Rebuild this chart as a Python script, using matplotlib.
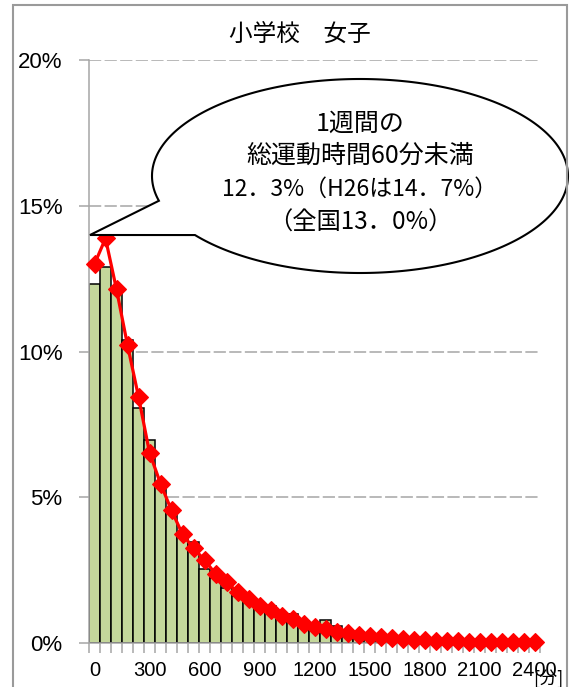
import matplotlib
matplotlib.use("Agg")
import numpy as np
import matplotlib.pyplot as plt
from matplotlib.patches import Rectangle, PathPatch
from matplotlib.path import Path

plt.rcParams['font.family'] = ['Noto Sans CJK JP', 'DejaVu Sans']

# ------------------------------------------------------------
#  Donnees
# ------------------------------------------------------------
minutes = [0, 60, 120, 180, 240, 300, 360, 420, 480, 540,
           600, 660, 720, 780, 840, 900, 960, 1020, 1080, 1140,
           1200, 1260, 1320, 1380, 1440, 1500, 1560, 1620, 1680, 1740,
           1800, 1860, 1920, 1980, 2040, 2100, 2160, 2220, 2280, 2340,
           2400]
label_minutes = [0, 300, 600, 900, 1200, 1500, 1800, 2100, 2400]

# prefecture (barres) en %
pref = [12.3, 12.9, 12.1, 10.4, 8.07, 6.97, 5.49, 4.56, 3.65, 3.46,
        2.53, 2.24, 1.90, 1.62, 1.42, 1.22, 1.27, 1.00, 0.98, 0.75,
        0.64, 0.80, 0.57, 0.45, 0.38, 0.30, 0.25, 0.20, 0.16, 0.13,
        0.10, 0.08, 0.07, 0.06, 0.05, 0.04, 0.03, 0.03, 0.02, 0.02,
        0.04]
# national (ligne rouge) en %
national = [13.0, 13.88, 12.13, 10.22, 8.45, 6.53, 5.47, 4.55, 3.73, 3.25,
            2.85, 2.37, 2.10, 1.74, 1.51, 1.28, 1.13, 0.93, 0.81, 0.65,
            0.56, 0.48, 0.39, 0.33, 0.27, 0.23, 0.19, 0.16, 0.13, 0.11,
            0.09, 0.08, 0.07, 0.06, 0.05, 0.04, 0.04, 0.03, 0.03, 0.02,
            0.02]
y_ticks = [0, 5, 10, 15, 20]

title = "小学校　女子"
callout_lines = ["1週間の", "総運動時間60分未満",
                 "12．3%（H26は14．7%）", "（全国13．0%）"]

# ------------------------------------------------------------
#  Figure
# ------------------------------------------------------------
W, H = 570, 687
fig = plt.figure(figsize=(W / 100, H / 100), dpi=100)

# cadre exterieur gris
fig.patches.append(Rectangle((13 / W, -0.05), (567 - 13) / W, 1.05 - 5 / H,
                             transform=fig.transFigure, fill=False,
                             edgecolor='#9a9a9a', linewidth=1.5))

ax = fig.add_axes([89 / W, 1 - 643 / H, (540 - 89) / W, (643 - 60) / H])
x = np.arange(len(minutes))
ax.bar(x, pref, width=1.0, color='#C4D79B', edgecolor='black',
       linewidth=1.1, zorder=2)
ax.plot(x, national, color='#FF0000', linewidth=2.3, marker='D',
        markersize=9, markeredgewidth=0.8, zorder=3, clip_on=False)

ax.set_xlim(-0.5, len(minutes) - 0.5)
ax.set_ylim(0, 20)
ax.set_yticks(y_ticks)
ax.set_yticklabels([f"{v}%" for v in y_ticks], family='Liberation Sans',
                   fontsize=16)
ax.yaxis.grid(True, color='#a6a6a6', linestyle=(0, (8, 2.2)), linewidth=1.1)
ax.set_axisbelow(True)

# ticks a chaque limite de categorie, etiquettes tous les 300 minutes
ax.set_xticks(np.arange(len(minutes) + 1) - 0.5)
ax.set_xticklabels([])
ax.set_xticks([minutes.index(m) for m in label_minutes], minor=True)
ax.set_xticklabels([str(m) for m in label_minutes], minor=True,
                   family='Liberation Sans', fontsize=14.5)
ax.tick_params(axis='x', which='major', length=7, color='#a6a6a6', width=1.1)
ax.tick_params(axis='x', which='minor', length=0, pad=13)
ax.tick_params(axis='y', length=7, color='#a6a6a6', width=1.1, pad=12)

for s in ['top', 'right']:
    ax.spines[s].set_visible(False)
for s in ['left', 'bottom']:
    ax.spines[s].set_color('#a6a6a6')
    ax.spines[s].set_linewidth(1.1)

# ------------------------------------------------------------
#  Textes et bulle (coordonnees en pixels)
# ------------------------------------------------------------
ov = fig.add_axes([0, 0, 1, 1], facecolor='none')
ov.set_xlim(0, W)
ov.set_ylim(H, 0)
ov.axis('off')

ov.text(300, 34, title, ha='center', va='center', fontsize=17)
ov.text(548, 679, "[分]", ha='center', va='center', fontsize=13)

cx, cy, a, b = 360, 176, 208, 97
tip = (90, 235)
t = np.radians(np.linspace(165.2, 502.5, 300))
pts = [tip] + list(zip(cx + a * np.cos(t), cy + b * np.sin(t))) + [tip]
codes = [Path.MOVETO] + [Path.LINETO] * (len(pts) - 2) + [Path.CLOSEPOLY]
ov.add_patch(PathPatch(Path(pts, codes), facecolor='white',
                       edgecolor='black', linewidth=1.5, zorder=5))

sizes = [18, 18, 16.5, 17.5]
for yy, line, fs in zip([124, 156, 189, 223], callout_lines, sizes):
    ov.text(360, yy, line, ha='center', va='center', fontsize=fs, zorder=6)

fig.savefig('out.png', dpi=100)
